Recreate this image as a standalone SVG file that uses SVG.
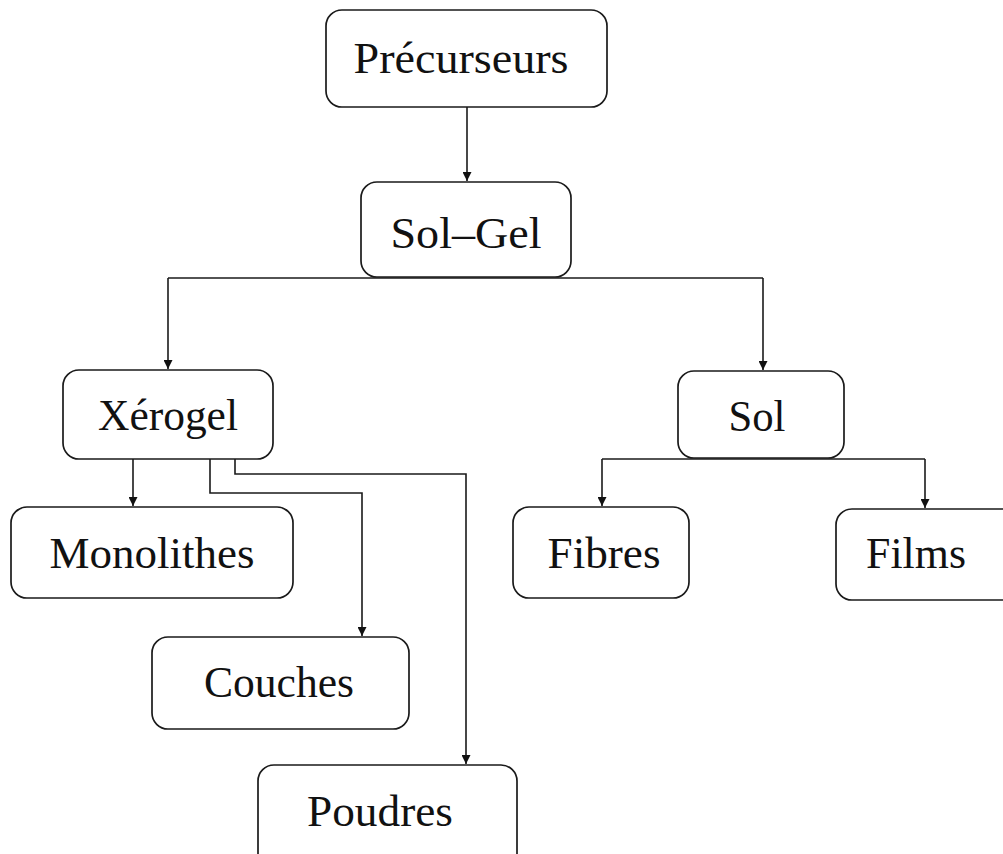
<svg xmlns="http://www.w3.org/2000/svg" width="1003" height="854" viewBox="0 0 1003 854">
<style>
.box{fill:#fff;stroke:#1a1a1a;stroke-width:1.7}
.lbl{font-family:"Liberation Serif","Times New Roman",serif;font-size:44px;fill:#111;text-anchor:middle}
.con{fill:none;stroke:#1a1a1a;stroke-width:1.6}
</style>
<defs>
<marker id="ah" viewBox="0 0 10 10" refX="10" refY="5" markerWidth="9" markerHeight="9" markerUnits="userSpaceOnUse" orient="auto">
<path d="M0,0 L10,5 L0,10 z" fill="#111"/>
</marker>
</defs>
<rect width="1003" height="854" fill="#fff"/>
<g id="connectors">
<path class="con" d="M467,107 V181" marker-end="url(#ah)"/>
<path class="con" d="M168,278 H763"/>
<path class="con" d="M168,278 V369" marker-end="url(#ah)"/>
<path class="con" d="M763,278 V370" marker-end="url(#ah)"/>
<path class="con" d="M133,459 V506" marker-end="url(#ah)"/>
<path class="con" d="M210,459 V493 H362 V636" marker-end="url(#ah)"/>
<path class="con" d="M235,459 V474 H466 V764" marker-end="url(#ah)"/>
<path class="con" d="M602,459 H925"/>
<path class="con" d="M602,459 V506" marker-end="url(#ah)"/>
<path class="con" d="M925,459 V508" marker-end="url(#ah)"/>
</g>
<g id="precurseurs">
<rect class="box" x="326" y="10" width="281" height="97" rx="16"/>
<text class="lbl" x="461" y="73" textLength="215" lengthAdjust="spacingAndGlyphs">Précurseurs</text>
</g>
<g id="solgel">
<rect class="box" x="361" y="182" width="210" height="95" rx="16"/>
<text class="lbl" x="466" y="248" textLength="151" lengthAdjust="spacingAndGlyphs">Sol–Gel</text>
</g>
<g id="xerogel">
<rect class="box" x="63" y="370" width="210" height="89" rx="16"/>
<text class="lbl" x="168" y="430" textLength="140" lengthAdjust="spacingAndGlyphs">Xérogel</text>
</g>
<g id="sol">
<rect class="box" x="678" y="371" width="166" height="87" rx="16"/>
<text class="lbl" x="757" y="431" textLength="57" lengthAdjust="spacingAndGlyphs">Sol</text>
</g>
<g id="monolithes">
<rect class="box" x="11" y="507" width="282" height="91" rx="16"/>
<text class="lbl" x="152" y="568" textLength="205" lengthAdjust="spacingAndGlyphs">Monolithes</text>
</g>
<g id="couches">
<rect class="box" x="152" y="637" width="257" height="92" rx="16"/>
<text class="lbl" x="279" y="697" textLength="150" lengthAdjust="spacingAndGlyphs">Couches</text>
</g>
<g id="poudres">
<rect class="box" x="258" y="765" width="259" height="110" rx="16"/>
<text class="lbl" x="380" y="826" textLength="146" lengthAdjust="spacingAndGlyphs">Poudres</text>
</g>
<g id="fibres">
<rect class="box" x="513" y="507" width="176" height="91" rx="16"/>
<text class="lbl" x="604" y="568" textLength="113" lengthAdjust="spacingAndGlyphs">Fibres</text>
</g>
<g id="films">
<rect class="box" x="836" y="509" width="190" height="91" rx="16"/>
<text class="lbl" x="916" y="568" textLength="100" lengthAdjust="spacingAndGlyphs">Films</text>
</g>
</svg>
